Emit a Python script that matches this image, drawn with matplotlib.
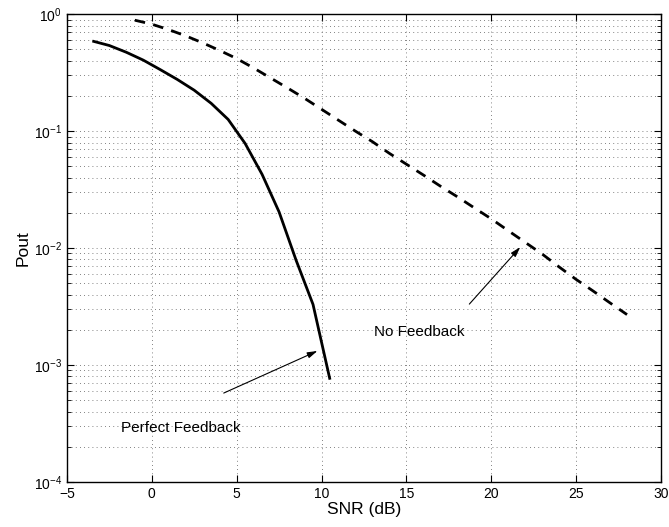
import matplotlib
matplotlib.use('Agg')
import matplotlib.pyplot as plt

plt.rcParams['font.family'] = ['Liberation Sans', 'DejaVu Sans']

# outage probability, perfect feedback (1 dB steps)
snr_pf = [-3.5, -2.5, -1.5, -0.5, 0.5, 1.5, 2.5, 3.5, 4.5, 5.5, 6.5, 7.5, 8.5, 9.5, 10.5]
pout_pf = [0.59, 0.54, 0.473, 0.405, 0.336, 0.277, 0.224, 0.173, 0.126, 0.0785,
           0.0427, 0.0204, 0.0079, 0.0033, 0.00075]

# outage probability, no feedback
snr_nf = list(range(-1, 29))
pout_nf = [0.889, 0.822, 0.738, 0.653, 0.569, 0.490, 0.418, 0.347, 0.285, 0.234,
           0.191, 0.154, 0.124, 0.100, 0.0813, 0.0646, 0.0522, 0.0422, 0.0339, 0.0275,
           0.0221, 0.0178, 0.0141, 0.0112, 0.0089, 0.0069, 0.0054, 0.0043, 0.0034, 0.0027]

fig = plt.figure(figsize=(6.69, 5.27), dpi=100)
ax = fig.add_axes([0.100, 0.0854, 0.888, 0.8876])

ax.semilogy(snr_pf, pout_pf, color='k', lw=2.0, solid_capstyle='butt')
ax.semilogy(snr_nf, pout_nf, color='k', lw=2.0, linestyle=(0, (3.8, 3.0)), dash_capstyle='butt')

ax.set_xlim(-5, 30)
ax.set_ylim(1e-4, 1)
ax.set_xticks(range(-5, 31, 5))

# dotted grid, minor lines only on the log axis
ax.grid(True, which='major', axis='both', color='0.35', linestyle=(0, (1, 4)), lw=0.6)
ax.grid(True, which='minor', axis='y', color='0.35', linestyle=(0, (1, 4)), lw=0.6)
ax.tick_params(which='both', direction='in', top=True, right=True, labelsize=10)
ax.tick_params(which='major', length=5, width=0.8)
ax.tick_params(which='minor', length=3, width=0.6)
for s in ax.spines.values():
    s.set_linewidth(1.0)

ax.set_xlabel('SNR (dB)', fontsize=12.5, labelpad=1)
ax.set_ylabel('Pout', fontsize=12.5, labelpad=2)

arrow = dict(arrowstyle='-|>,head_length=0.6,head_width=0.18', color='k', lw=0.8, shrinkA=0, shrinkB=0)
ax.annotate('', xy=(9.76, 1.32e-3), xytext=(4.24, 5.76e-4), arrowprops=arrow)
ax.annotate('', xy=(21.71, 0.0102), xytext=(18.71, 3.32e-3), arrowprops=arrow)
ax.text(-1.82, 2.9e-4, 'Perfect Feedback', fontsize=11, va='center', ha='left')
ax.text(13.12, 1.91e-3, 'No Feedback', fontsize=11, va='center', ha='left')

fig.savefig('out.png', dpi=100)
